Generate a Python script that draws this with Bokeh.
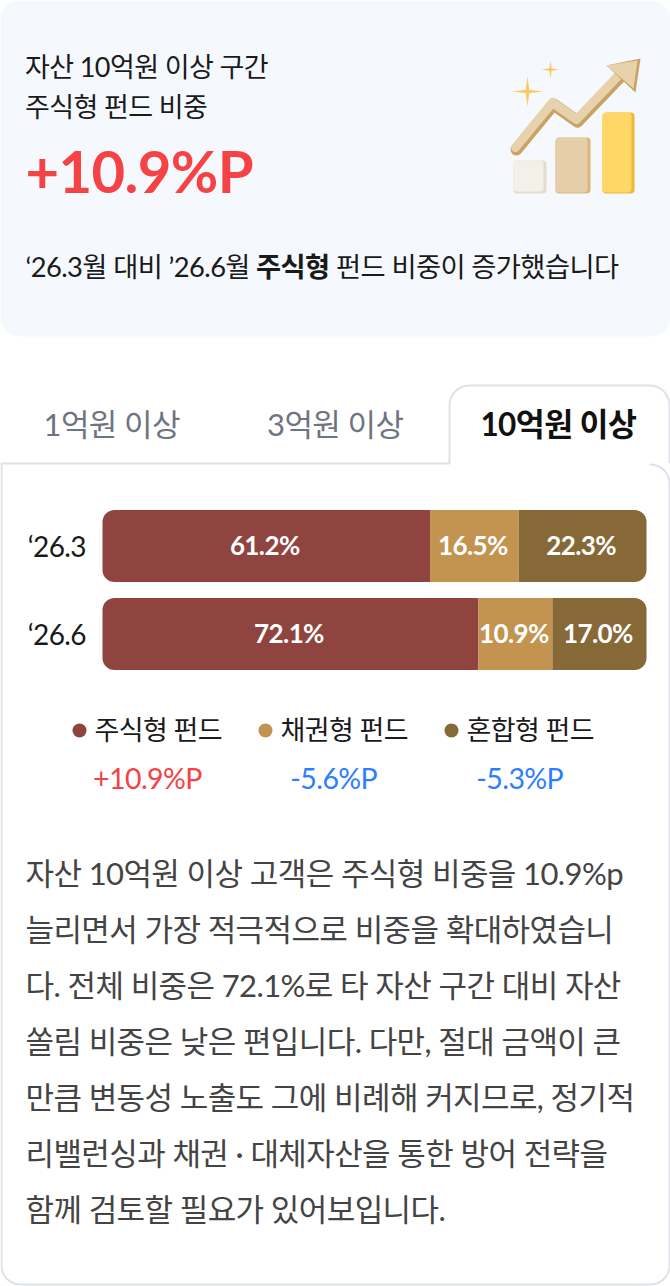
import numpy as np
from bokeh.core.properties import value
from bokeh.embed import file_html
from bokeh.models import ColumnDataSource, Range1d
from bokeh.plotting import figure
from bokeh.resources import INLINE

FONT = value("Lato, 'Noto Sans CJK KR'")

# bar lengths as drawn in the picture (share of the track, %), labels as printed
periods = ["‘26.3", "‘26.6"]
stock_len = [60.2, 69.1]
bond_len = [16.3, 13.6]
mixed_len = [23.5, 17.3]
stock_labels = ["61.2%", "72.1%"]
bond_labels = ["16.5%", "10.9%"]
mixed_labels = ["22.3%", "17.0%"]

legend_names = ["주식형 펀드", "채권형 펀드", "혼합형 펀드"]
legend_deltas = ["+10.9%P", "-5.6%P", "-5.3%P"]
legend_colors = ["#8f443f", "#c39350", "#866937"]
delta_colors = ["#f54244", "#2b7fff", "#2b7fff"]

tabs = ["1억원 이상", "3억원 이상", "10억원 이상"]
body_lines = [
    "자산 10억원 이상 고객은 주식형 비중을 10.9%p",
    "늘리면서 가장 적극적으로 비중을 확대하였습니",
    "다. 전체 비중은 72.1%로 타 자산 구간 대비 자산",
    "쏠림 비중은 낮은 편입니다. 다만, 절대 금액이 큰",
    "만큼 변동성 노출도 그에 비례해 커지므로, 정기적",
    "리밸런싱과 채권 · 대체자산을 통한 방어 전략을",
    "함께 검토할 필요가 있어보입니다.",
]

W, H = 670, 1286
p = figure(width=W, height=H, x_range=Range1d(0, W), y_range=Range1d(H, 0),
           output_backend="svg", toolbar_location=None, min_border=0,
           x_axis_location=None, y_axis_location=None,
           styles={"position": "absolute", "left": "0", "top": "0", "letter-spacing": "-0.6px"})
p.grid.visible = False
p.outline_line_color = None
p.background_fill_color = None
p.border_fill_color = None

# track 102..646 px is 0..100%, rows sit 88 px apart from y=546
p.extra_x_ranges = {"pct": Range1d(-102 / 5.44, (W - 102) / 5.44)}
p.extra_y_ranges = {"row": Range1d((H - 545.6) / 88, -545.6 / 88)}


def label(x, y, txt, size, color="#1a1a1a", align="left", style="normal"):
    p.text([x], [y], text=[txt], text_font=FONT, text_font_size=f"{size}px", text_color=color,
           text_align=align, text_baseline="alphabetic", text_font_style=style)


def arc_pts(cx, cy, r, a0, a1):
    t = np.radians(np.linspace(a0, a1, 12))
    return list(cx + r * np.cos(t)), list(cy + r * np.sin(t))


# header card
p.quad(left=[0], right=[670], top=[0], bottom=[336], fill_color="#f5f8fd", line_color=None,
       border_radius=20)
label(24.5, 66, "자산 10억원 이상 구간", 27)
label(24.5, 106, "주식형 펀드 비중", 27)
label(25, 170, "+10.9%P", 58, color="#f54244", style="bold")
label(25, 266, "‘26.3월 대비 ’26.6월", 27.3)
label(255.5, 266, "주식형", 27.3, style="bold")
label(335.5, 266, "펀드 비중이 증가했습니다", 27.3)

# icon
p.quad(left=[513, 555, 602], right=[546, 590, 634], top=[160, 137, 112], bottom=[193, 193, 193],
       fill_color=["#e6dccb", "#d9b576", "#efb733"], line_color=None, border_radius=4)
p.quad(left=[513, 555, 602], right=[543, 587, 631], top=[160, 137, 112], bottom=[191, 192, 192],
       fill_color=["#f3efe9", "#e5cfa8", "#ffd766"], line_color=None, border_radius=4)
p.line([516, 553, 577, 620], [149, 104, 121, 76], line_color="#c9a266", line_width=12,
       line_join="round", line_cap="round")
p.line([515, 552, 576, 619], [147, 102, 119, 74], line_color="#e8d2ac", line_width=9,
       line_join="round", line_cap="round")
p.patch([606, 640, 635, 620], [65, 58, 92, 78], fill_color="#c9a266", line_color=None)
p.patch([606, 637, 633, 619], [65, 60, 88, 76], fill_color="#e8d2ac", line_color=None)
for cx, cy, r, q in [(527, 91, 15, 2.5), (550, 69, 9, 1.6)]:
    xs, ys = [], []
    for i in range(4):
        a = np.radians(90 * i)
        b = a + np.radians(45)
        xs += [cx + r * np.cos(a), cx + q * np.cos(b)]
        ys += [cy + r * np.sin(a), cy + q * np.sin(b)]
    p.patch(xs, ys, fill_color="#f8cb62", line_color=None)

# tabs and panel outline
xs, ys = [0], [463]
xs += [449]; ys += [463]
ax, ay = arc_pts(469, 405, 20, 180, 270)
xs += ax; ys += ay
ax, ay = arc_pts(649, 405, 20, 270, 360)
xs += ax; ys += ay
xs += [669]; ys += [463]
p.line(xs, ys, line_color="#dde2e8", line_width=2)
xs, ys = [650], [463]
ax, ay = arc_pts(650, 483, 19, 270, 360)
xs += ax; ys += ay
ax, ay = arc_pts(650, 1265, 19, 0, 90)
xs += ax; ys += ay
ax, ay = arc_pts(20, 1265, 19, 90, 180)
xs += ax; ys += ay
xs += [1]; ys += [463]
p.line(xs, ys, line_color="#dde2e8", line_width=2)
label(113, 423, tabs[0], 31, color="#6e7480", align="center")
label(336.5, 423, tabs[1], 31, color="#6e7480", align="center")
label(560, 423, tabs[2], 31.5, color="#111111", align="center", style="bold")

# stacked bars
rows = list(range(len(periods)))
stock_end = list(stock_len)
bond_end = [a + b for a, b in zip(stock_end, bond_len)]
mixed_end = [a + b for a, b in zip(bond_end, mixed_len)]
bars = dict(y_range_name="row", x_range_name="pct", height=72 / 88, line_color=None)
p.hbar(y=rows, left=[0, 0], right=stock_end, fill_color=legend_colors[0],
       border_radius=(12, 0, 0, 12), **bars)
p.hbar(y=rows, left=stock_end, right=bond_end, fill_color=legend_colors[1], **bars)
p.hbar(y=rows, left=bond_end, right=mixed_end, fill_color=legend_colors[2],
       border_radius=(0, 12, 12, 0), **bars)
for i, period in enumerate(periods):
    label(88.5, 545 + 88 * i, period, 28, align="right")
mid = lambda a, b: [(u + v) / 2 for u, v in zip(a, b)]
for centers, texts in [(mid([0, 0], stock_end), stock_labels),
                       (mid(stock_end, bond_end), bond_labels),
                       (mid(bond_end, mixed_end), mixed_labels)]:
    src = ColumnDataSource(dict(x=centers, y=rows, t=texts))
    p.text("x", "y", text="t", source=src, x_range_name="pct", y_range_name="row",
           text_font=FONT, text_font_size="26px", text_font_style="bold", text_color="#ffffff",
           text_align="center", text_baseline="middle", y_offset=-1)

# legend
for i, name in enumerate(legend_names):
    p.scatter([79 + 186 * i], [730], size=14, fill_color=legend_colors[i], line_color=None)
    label(94 + 186 * i, 729, name, 27)
    label(149 + 186 * i, 777, legend_deltas[i], 28.5, color=delta_colors[i], align="center")

# commentary
for i, line in enumerate(body_lines):
    label(25, 872 + 56 * i, line, 31, color="#444444")

open("out.html", "w").write(file_html(p, INLINE))
